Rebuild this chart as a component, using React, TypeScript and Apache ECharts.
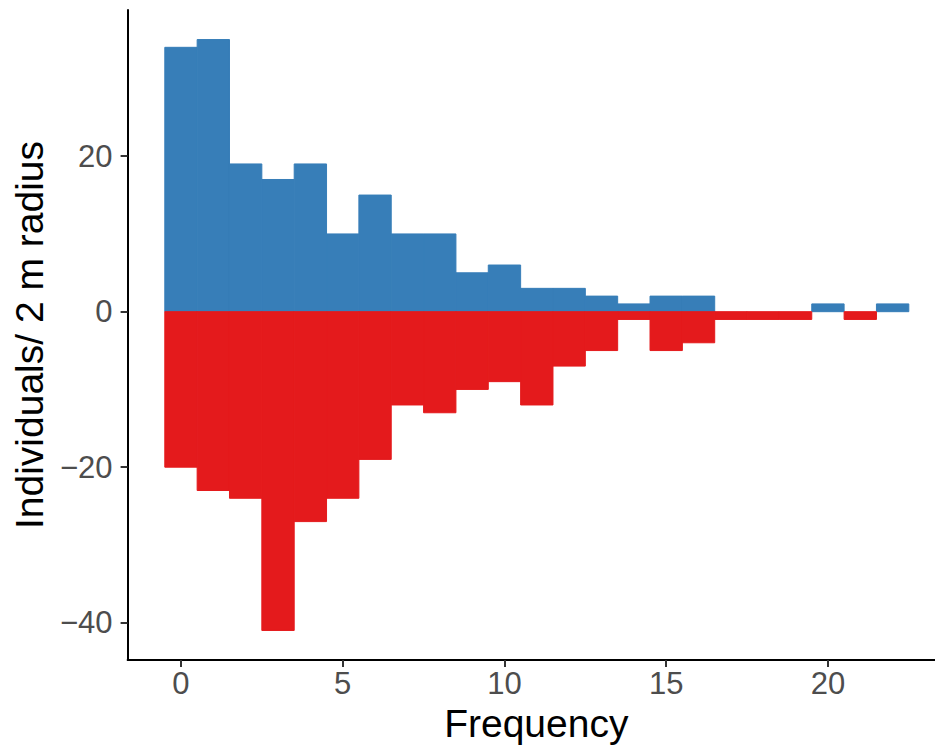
import React, { useEffect, useRef } from "react";
import * as echarts from "echarts";

const bins = [0, 1, 2, 3, 4, 5, 6, 7, 8, 9, 10, 11, 12, 13, 14, 15, 16, 17, 18, 19, 20, 21, 22];
const positiveCounts = [34, 35, 19, 17, 19, 10, 15, 10, 10, 5, 6, 3, 3, 2, 1, 2, 2, 0, 0, 0, 1, 0, 1];
const negativeCounts = [-20, -23, -24, -41, -27, -24, -19, -12, -13, -10, -9, -12, -7, -5, -1, -5, -4, -1, -1, -1, 0, -1, 0];
const xTicks = [0, 5, 10, 15, 20];
const yTicks = [-40, -20, 0, 20];

const BLUE = "#377EB8";
const RED = "#E41A1C";
const FONT = "Liberation Sans, Arial, Helvetica, sans-serif";

function makeRenderer(color: string) {
  return (params: any, api: any) => {
    const x = api.value(0);
    const y = api.value(1);
    if (y === 0) return null;
    const p1 = api.coord([x - 0.5, y]);
    const p2 = api.coord([x + 0.5, 0]);
    return {
      type: "rect",
      shape: {
        x: p1[0],
        y: Math.min(p1[1], p2[1]),
        width: p2[0] - p1[0],
        height: Math.abs(p2[1] - p1[1]),
      },
      style: { fill: color, stroke: color, lineWidth: 1 },
    };
  };
}

export default function App() {
  const ref = useRef<HTMLDivElement>(null);
  useEffect(() => {
    if (!ref.current) return;
    const chart = echarts.init(ref.current, null, { renderer: "svg" });
    const axisLabelStyle = { color: "#4D4D4D", fontSize: 31, fontFamily: FONT };
    chart.setOption({
      animation: false,
      backgroundColor: "#FFFFFF",
      grid: { left: 127.6, top: 10, right: 0, bottom: 87, containLabel: false },
      xAxis: {
        type: "value",
        min: -1.65,
        max: 23.31,
        name: "Frequency",
        nameLocation: "middle",
        nameGap: 44,
        nameTextStyle: { color: "#000000", fontSize: 39, fontFamily: FONT, padding: [0, 0, 0, 10] },
        axisLine: { show: true, onZero: false, lineStyle: { color: "#000000", width: 2 } },
        axisTick: { show: true, length: 7, customValues: xTicks, lineStyle: { color: "#333333", width: 2 } },
        axisLabel: { ...axisLabelStyle, margin: 8, customValues: xTicks, formatter: (v: number) => String(v) },
        splitLine: { show: false },
      },
      yAxis: {
        type: "value",
        min: -44.8,
        max: 38.8,
        name: "Individuals/ 2 m radius",
        nameLocation: "middle",
        nameGap: 78,
        nameTextStyle: { color: "#000000", fontSize: 39, fontFamily: FONT },
        axisLine: { show: true, onZero: false, lineStyle: { color: "#000000", width: 2 } },
        axisTick: { show: true, length: 7, customValues: yTicks, lineStyle: { color: "#333333", width: 2 } },
        axisLabel: {
          ...axisLabelStyle,
          margin: 15,
          customValues: yTicks,
          formatter: (v: number) => (v < 0 ? "\u2212" + Math.abs(v) : String(v)),
        },
        splitLine: { show: false },
      },
      series: [
        {
          type: "custom",
          name: "positive",
          renderItem: makeRenderer(BLUE),
          encode: { x: 0, y: 1 },
          data: bins.map((b, i) => [b, positiveCounts[i]]),
        },
        {
          type: "custom",
          name: "negative",
          renderItem: makeRenderer(RED),
          encode: { x: 0, y: 1 },
          data: bins.map((b, i) => [b, negativeCounts[i]]),
        },
      ],
    });
    return () => chart.dispose();
  }, []);
  return (
    <div
      ref={ref}
      style={{ position: "fixed", left: 0, top: 0, width: 935, height: 748, background: "#fff" }}
    />
  );
}
